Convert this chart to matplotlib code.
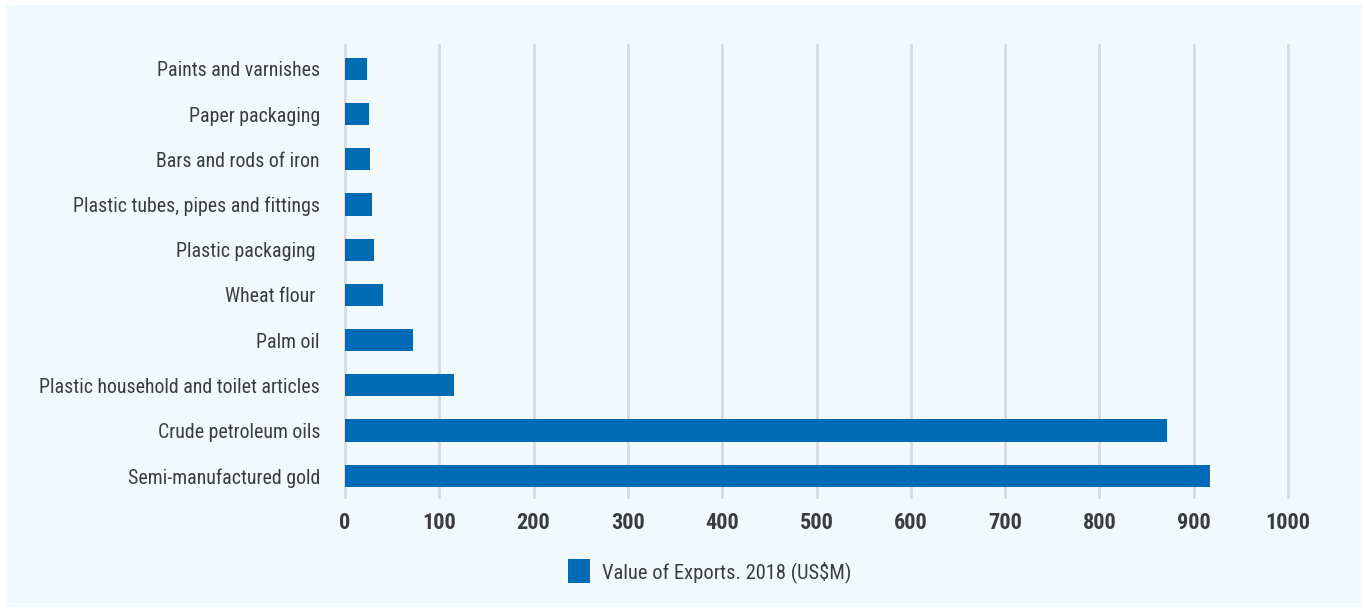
import matplotlib
matplotlib.use("Agg")
import matplotlib.pyplot as plt
from matplotlib.patches import Rectangle, Patch

categories = [
    "Semi-manufactured gold",
    "Crude petroleum oils",
    "Plastic household and toilet articles",
    "Palm oil",
    "Wheat flour ",
    "Plastic packaging ",
    "Plastic tubes, pipes and fittings",
    "Bars and rods of iron",
    "Paper packaging",
    "Paints and varnishes",
]
values = [917, 872, 116, 72, 40, 31, 28.5, 26.5, 25, 23]
x_ticks = [0, 100, 200, 300, 400, 500, 600, 700, 800, 900, 1000]
series_name = "Value of Exports. 2018 (US$M)"

FONT = ["Roboto Condensed", "DejaVu Sans"]
BAR = "#006bb5"
PANEL = "#f2f9fd"
TEXT = "#3c3c3c"
GRID = "#d6d9dd"

W, H = 1367, 612
fig = plt.figure(figsize=(W / 100, H / 100), dpi=100, facecolor="white")
fig.patches.append(Rectangle((6 / W, 5 / H), (1362 - 6) / W, (607 - 5) / H,
                             transform=fig.transFigure, facecolor=PANEL,
                             edgecolor="none", zorder=-10))

left, right, top, bottom = 345, 1288, 45, 497
ax = fig.add_axes([left / W, 1 - bottom / H, (right - left) / W, (bottom - top) / H])
ax.set_facecolor("none")

y = list(range(len(categories)))
ax.barh(y, values, height=0.49, color=BAR, zorder=3)

ax.set_xlim(0, 1000)
ax.set_ylim(-0.47, 9.53)
ax.set_xticks(x_ticks)
ax.set_xticklabels([str(t) for t in x_ticks], family=FONT, fontsize=16,
                   fontweight="bold", color=TEXT)
ax.set_yticks(y)
ax.set_yticklabels(categories, family=FONT, fontsize=14.3, color=TEXT)
ax.tick_params(axis="y", length=0, pad=18)
ax.tick_params(axis="x", length=0, pad=11)

for t in x_ticks:
    ax.axvline(t, color=GRID, linewidth=2, zorder=1, clip_on=False)
for s in ax.spines.values():
    s.set_visible(False)

handle = Patch(facecolor=BAR, edgecolor="none", label=series_name)
fig.legend(handles=[handle], loc="center", bbox_to_anchor=(710 / W, 1 - 571 / H),
           frameon=False, prop={"family": FONT, "size": 14.8},
           labelcolor=TEXT, handlelength=1.05, handleheight=1.35, handletextpad=0.6)

fig.savefig("out.png", dpi=100, facecolor="white")
